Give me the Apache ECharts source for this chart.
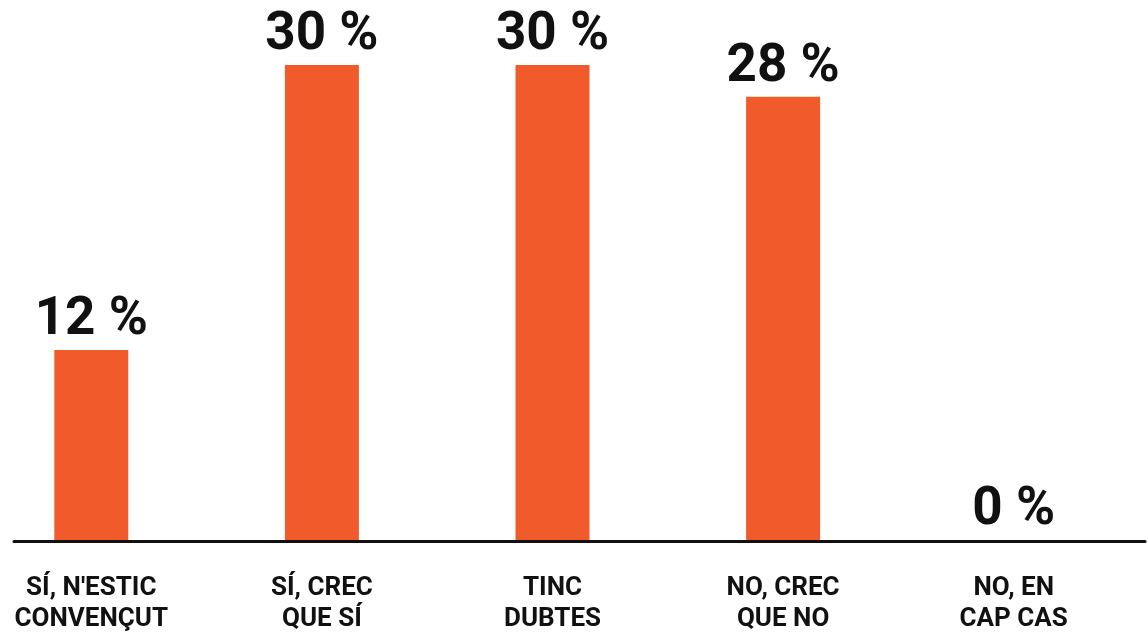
<!DOCTYPE html>
<html>
<head>
<meta charset="utf-8">
<script src="https://cdn.jsdelivr.net/npm/echarts@6/dist/echarts.min.js"></script>
<style>
html,body{margin:0;padding:0;background:#fff;}
#chart{width:1148px;height:636px;}
</style>
</head>
<body>
<div id="chart"></div>
<script>
var categories = ["SÍ, N'ESTIC\nCONVENÇUT", "SÍ, CREC\nQUE SÍ", "TINC\nDUBTES", "NO, CREC\nQUE NO", "NO, EN\nCAP CAS"];
var values = [12, 30, 30, 28, 0];

var chart = echarts.init(document.getElementById('chart'));
chart.setOption({
  animation: false,
  backgroundColor: '#ffffff',
  grid: [
    {left: -24, width: 1153, top: 65, bottom: 96, containLabel: false, outerBoundsMode: 'none'},
    {left: 14, right: 3, top: 65, bottom: 94.5, containLabel: false, outerBoundsMode: 'none'}
  ],
  xAxis: [
    {
      type: 'category', gridIndex: 0, data: categories,
      axisLine: {show: false}, axisTick: {show: false},
      axisLabel: {
        margin: 33, color: '#111', fontFamily: 'Roboto', fontWeight: 'bold',
        fontSize: 26, lineHeight: 31, interval: 0
      }
    },
    {
      type: 'value', gridIndex: 1, min: 0, max: 1,
      axisLine: {show: true, lineStyle: {color: '#111', width: 3}},
      axisTick: {show: false}, axisLabel: {show: false}, splitLine: {show: false}
    }
  ],
  yAxis: [
    {type: 'value', gridIndex: 0, min: 0, max: 30, show: false},
    {type: 'value', gridIndex: 1, min: 0, max: 1, show: false}
  ],
  series: [{
    type: 'bar', xAxisIndex: 0, yAxisIndex: 0,
    data: values, barWidth: 74,
    itemStyle: {color: '#F15A2B'},
    label: {
      show: true, position: 'top', distance: 3,
      formatter: '{c} %', color: '#111',
      fontFamily: 'Roboto', fontWeight: 'bold', fontSize: 53, lineHeight: 52
    }
  }]
});
</script>
</body>
</html>
